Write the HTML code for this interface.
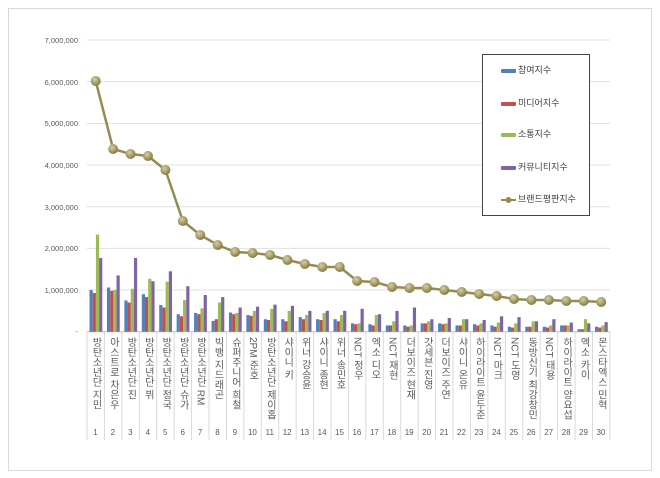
<!DOCTYPE html>
<html><head><meta charset="utf-8"><style>
body{margin:0;width:660px;height:478px;background:#fff;position:relative;overflow:hidden;font-family:"Liberation Sans","Noto Sans CJK KR",sans-serif}
#frame{position:absolute;left:8px;top:8px;width:642px;height:461px;border:1px solid #d9d9d9}
.yl{position:absolute;left:10px;width:68px;text-align:right;font-size:7.5px;color:#595959}
.cl{position:absolute;top:337px;width:17px;writing-mode:vertical-rl;font-size:10px;color:#595959;line-height:17px;letter-spacing:0px}
.cn{position:absolute;top:428px;width:17px;text-align:center;font-size:8px;color:#595959}
#leg{position:absolute;left:482px;top:54px;width:106px;height:160px;border:1px solid #444;background:#fff}
.li{position:absolute;left:18px;font-size:9px;color:#404040;line-height:10px}
.sw{display:inline-block;width:15px;height:4px;vertical-align:middle;margin-right:2px;border-radius:1px}
</style></head><body>
<div id="frame"></div>
<svg id="s" width="660" height="478" style="position:absolute;left:0;top:0"></svg>
<div class="yl" style="top:36px">7,000,000</div>
<div class="yl" style="top:78px">6,000,000</div>
<div class="yl" style="top:119px">5,000,000</div>
<div class="yl" style="top:161px">4,000,000</div>
<div class="yl" style="top:203px">3,000,000</div>
<div class="yl" style="top:244px">2,000,000</div>
<div class="yl" style="top:286px">1,000,000</div>
<div class="yl" style="top:327px">-</div>
<div id="labels"><div class="cl" style="left:87px">방탄소년단 지민</div><div class="cl" style="left:104.4px">아스트로 차은우</div><div class="cl" style="left:121.9px">방탄소년단 진</div><div class="cl" style="left:139.3px">방탄소년단 뷔</div><div class="cl" style="left:156.7px">방탄소년단 정국</div><div class="cl" style="left:174.2px">방탄소년단 슈가</div><div class="cl" style="left:191.6px">방탄소년단 RM</div><div class="cl" style="left:209px">빅뱅 지드래곤</div><div class="cl" style="left:226.4px">슈퍼주니어 희철</div><div class="cl" style="left:243.9px">2PM 준호</div><div class="cl" style="left:261.3px">방탄소년단 제이홉</div><div class="cl" style="left:278.7px">샤이니 키</div><div class="cl" style="left:296.2px">위너 강승윤</div><div class="cl" style="left:313.6px">샤이니 종현</div><div class="cl" style="left:331px">위너 송민호</div><div class="cl" style="left:348.4px">NCT 정우</div><div class="cl" style="left:365.9px">엑소 디오</div><div class="cl" style="left:383.3px">NCT 재현</div><div class="cl" style="left:400.7px">더보이즈 현재</div><div class="cl" style="left:418.2px">갓세븐 진영</div><div class="cl" style="left:435.6px">더보이즈 주연</div><div class="cl" style="left:453px">샤이니 온유</div><div class="cl" style="left:470.4px">하이라이트 윤두준</div><div class="cl" style="left:487.9px">NCT 마크</div><div class="cl" style="left:505.3px">NCT 도영</div><div class="cl" style="left:522.7px">동방신기 최강창민</div><div class="cl" style="left:540.2px">NCT 태용</div><div class="cl" style="left:557.6px">하이라이트 양요섭</div><div class="cl" style="left:575px">엑소 카이</div><div class="cl" style="left:592.4px">몬스타엑스 민혁</div></div>
<div><div class="cn" style="left:87px">1</div><div class="cn" style="left:104.4px">2</div><div class="cn" style="left:121.9px">3</div><div class="cn" style="left:139.3px">4</div><div class="cn" style="left:156.7px">5</div><div class="cn" style="left:174.2px">6</div><div class="cn" style="left:191.6px">7</div><div class="cn" style="left:209px">8</div><div class="cn" style="left:226.4px">9</div><div class="cn" style="left:243.9px">10</div><div class="cn" style="left:261.3px">11</div><div class="cn" style="left:278.7px">12</div><div class="cn" style="left:296.2px">13</div><div class="cn" style="left:313.6px">14</div><div class="cn" style="left:331px">15</div><div class="cn" style="left:348.4px">16</div><div class="cn" style="left:365.9px">17</div><div class="cn" style="left:383.3px">18</div><div class="cn" style="left:400.7px">19</div><div class="cn" style="left:418.2px">20</div><div class="cn" style="left:435.6px">21</div><div class="cn" style="left:453px">22</div><div class="cn" style="left:470.4px">23</div><div class="cn" style="left:487.9px">24</div><div class="cn" style="left:505.3px">25</div><div class="cn" style="left:522.7px">26</div><div class="cn" style="left:540.2px">27</div><div class="cn" style="left:557.6px">28</div><div class="cn" style="left:575px">29</div><div class="cn" style="left:592.4px">30</div></div>
<div id="leg">
<div class="li" style="top:10px"><span class="sw" style="background:#4f81bd"></span>참여지수</div>
<div class="li" style="top:43px"><span class="sw" style="background:#c0504d"></span>미디어지수</div>
<div class="li" style="top:74px"><span class="sw" style="background:#9bbb59"></span>소통지수</div>
<div class="li" style="top:107px"><span class="sw" style="background:#8064a2"></span>커뮤니티지수</div>
<div class="li" style="top:139px"><svg width="15" height="8" style="vertical-align:middle;margin-right:2px"><line x1="0" y1="4" x2="15" y2="4" stroke="#948a54" stroke-width="2"/><circle cx="7.5" cy="4" r="3" fill="#948a54"/></svg>브랜드평판지수</div>
</div>
<script>
var s=document.getElementById('s'),h='';
var L=87,W=17.43,Y0=331.7,K=41.67;
for(var i=0;i<=7;i++){var y=Y0-i*K;h+='<line x1="'+L+'" x2="610" y1="'+y+'" y2="'+y+'" stroke="#e0e0e0" stroke-width="1"/>';}
h+='<line x1="'+L+'" x2="610" y1="'+Y0+'" y2="'+Y0+'" stroke="#bfbfbf"/>';
for(var i=0;i<=30;i++){var x=L+i*W;h+='<line x1="'+x+'" x2="'+x+'" y1="'+Y0+'" y2="440" stroke="#d9d9d9"/>';}
var b=[[1,.93,2.33,1.77],[1.06,.98,1,1.35],[.75,.7,1.03,1.77],[.9,.83,1.27,1.21],[.64,.58,1.2,1.45],[.42,.37,.76,1.09],[.45,.42,.56,.88],[.26,.3,.7,.83],[.46,.42,.45,.58],[.4,.38,.5,.6],[.3,.28,.55,.65],[.3,.25,.5,.62],[.35,.3,.4,.5],[.3,.28,.45,.5],[.3,.25,.4,.5],[.2,.18,.2,.55],[.18,.15,.4,.42],[.15,.15,.25,.5],[.15,.12,.15,.58],[.2,.2,.25,.3],[.2,.18,.2,.33],[.15,.15,.3,.3],[.18,.15,.2,.28],[.15,.12,.22,.37],[.12,.1,.2,.35],[.12,.12,.25,.25],[.12,.1,.15,.3],[.15,.15,.15,.22],[.06,.06,.3,.2],[.12,.1,.15,.23]];
var c=['#4f81bd','#c0504d','#9bbb59','#8064a2'];
var ln=[81,149,154,156,170,221,235,245,252,253,255,260,264,267,267,281,282,287,288,288,290,292,294,296,299,300,300,301,301,302];
for(var i=0;i<30;i++){var x0=L+i*W+2.5;for(var j=0;j<4;j++){var hh=b[i][j]*K;h+='<rect x="'+(x0+j*3.2)+'" y="'+(Y0-hh)+'" width="3.2" height="'+hh+'" fill="'+c[j]+'"/>';}}
var p='';for(var i=0;i<30;i++){p+=(L+(i+.5)*W)+','+ln[i]+' ';}
h+='<polyline points="'+p+'" fill="none" stroke="#948a54" stroke-width="2.5"/>';
h+='<defs><radialGradient id="g" cx="40%" cy="35%" r="65%"><stop offset="0" stop-color="#d6cfa0"/><stop offset="1" stop-color="#857a45"/></radialGradient></defs>';
for(var i=0;i<30;i++){h+='<circle cx="'+(L+(i+.5)*W)+'" cy="'+ln[i]+'" r="5" fill="url(#g)"/>';}
s.innerHTML=h;
</script>
</body></html>
